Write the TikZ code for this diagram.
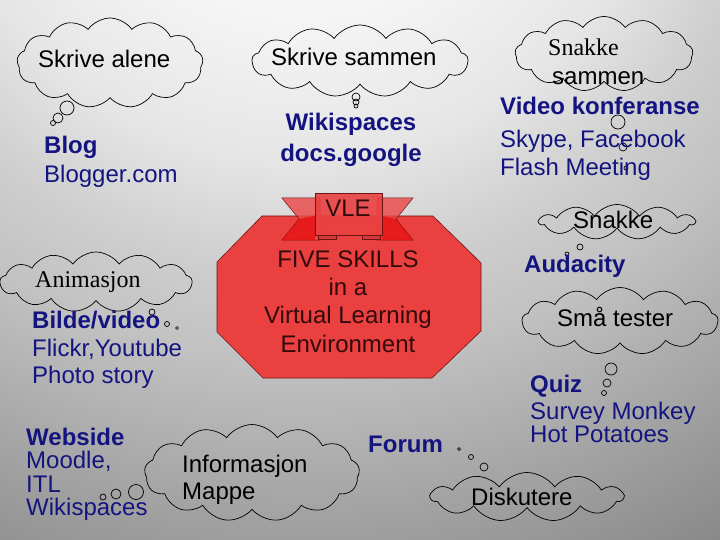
\documentclass[tikz,border=0pt]{standalone}
\usepackage{fontspec}
\setmainfont{Liberation Sans}
\newfontfamily\timesf{Liberation Serif}
\usetikzlibrary{shapes.symbols}
\definecolor{navy}{RGB}{20,20,128}
\definecolor{octred}{RGB}{234,64,64}
\definecolor{octborder}{RGB}{110,20,20}
\definecolor{octtext}{RGB}{50,10,10}
\definecolor{tailred}{RGB}{235,70,70}
\pgfdeclareradialshading{bgshade}{\pgfpoint{0bp}{0bp}}{color(0bp)=(white); color(6bp)=(white!96!black); color(10bp)=(white!90!black); color(13bp)=(white!81!black); color(15.5bp)=(white!76!black); color(20.5bp)=(white!62!black); color(23.5bp)=(white!54!black); color(25bp)=(white!51!black); color(50bp)=(white!51!black)}
\tikzset{
  cloudshape/.style={cloud, cloud puffs=13, cloud puff arc=110, cloud ignores aspect, draw=black, line width=0.7pt, inner sep=0pt},
  bubble/.style={circle, draw=black, line width=0.7pt, inner sep=0pt},
  txt/.style={inner sep=0pt, anchor=base west, font=\fontsize{24}{28}\selectfont},
  sertxt/.style={txt, font=\fontsize{24}{28}\selectfont\timesf},
  bl/.style={txt, text=navy},
  blb/.style={bl, font=\fontsize{24}{28}\selectfont\bfseries},
  ctxt/.style={inner sep=0pt, anchor=base, text=octtext, font=\fontsize{24}{28}\selectfont},
}
\begin{document}
\begin{tikzpicture}[x=1pt,y=-1pt]
\useasboundingbox (0,0) rectangle (720,540);
\begin{scope}
  \clip (0,0) rectangle (720,540);
  \shade[shading=bgshade] (300,-200) circle (900);
\end{scope}

% central octagon
\coordinate (o1) at (262,216); \coordinate (o2) at (433,216);
\coordinate (o3) at (481,263); \coordinate (o4) at (481,331);
\coordinate (o5) at (432,378); \coordinate (o6) at (263,378);
\coordinate (o7) at (217,332); \coordinate (o8) at (217,262);
\draw[fill=octred, draw=octborder, line width=0.6pt] (o1) -- (o2) -- (o3) -- (o4) -- (o5) -- (o6) -- (o7) -- (o8) -- cycle;

% ribbon
\draw[fill=tailred, fill opacity=0.8, draw=octborder, line width=0.5pt] (282,198) -- (320,198) -- (320,240) -- (282,240) -- (299,219) -- cycle;
\draw[fill=tailred, fill opacity=0.8, draw=octborder, line width=0.5pt] (413,198) -- (377,198) -- (377,240) -- (413,240) -- (396,219) -- cycle;
\fill[red!90!black, opacity=0.6] (299,219) -- (315,216) -- (315,240) -- (282,240) -- cycle;
\fill[red!90!black, opacity=0.6] (396,219) -- (382,216) -- (382,240) -- (413,240) -- cycle;
\draw[fill=octred!90!black, draw=octborder, line width=0.5pt] (318,235) rectangle (336,239);
\draw[fill=octred!90!black, draw=octborder, line width=0.5pt] (362,235) rectangle (380,239);
\draw[fill=octred, fill opacity=0.9, draw=octborder, line width=0.6pt] (315,193) rectangle (382,235);
\node[ctxt] (vle) at (348,217) {VLE};

\node[ctxt] (five) at (348,267) {FIVE SKILLS};
\node[ctxt] (ina) at (348,295) {in a};
\node[ctxt] (virt) at (348,323) {Virtual Learning};
\node[ctxt] (env) at (348,352) {Environment};

% clouds
\node[cloudshape, minimum width=186pt, minimum height=90pt] (c1) at (110,63) {};
\node[cloudshape, minimum width=216pt, minimum height=72pt] (c2) at (360,61) {};
\node[cloudshape, minimum width=178pt, minimum height=75pt] (c3) at (604,54) {};
\node[cloudshape, cloud puffs=11, minimum width=155pt, minimum height=35pt] (c4) at (617,222) {};
\node[cloudshape, minimum width=196pt, minimum height=67pt] (c5) at (620,321) {};
\node[cloudshape, minimum width=192pt, minimum height=60pt] (c6) at (96,282) {};
\node[cloudshape, minimum width=215pt, minimum height=97pt] (c7) at (252,473) {};
\node[cloudshape, cloud puffs=11, minimum width=192pt, minimum height=49pt] (c8) at (527,497) {};

% bubbles
\node[bubble, minimum size=14pt] (b11) at (67,108) {};
\node[bubble, minimum size=10pt] (b12) at (58,118) {};
\node[bubble, minimum size=5pt] (b13) at (53,123) {};
\node[bubble, minimum size=8pt] (b21) at (356,97) {};
\node[bubble, minimum size=6pt] (b22) at (356,102) {};
\node[bubble, minimum size=4pt] (b23) at (356,106) {};
\node[bubble, minimum size=14pt] (b31) at (618,122) {};
\node[bubble, minimum size=8pt] (b32) at (623,147) {};
\node[bubble, minimum size=4pt] (b33) at (626,168) {};
\node[bubble, minimum size=6pt] (b41) at (580,247) {};
\node[bubble, minimum size=4pt] (b42) at (567,254) {};
\node[bubble, minimum size=12pt] (b51) at (611,369) {};
\node[bubble, minimum size=8pt] (b52) at (607,383) {};
\node[bubble, minimum size=5pt] (b53) at (604,393) {};
\node[bubble, minimum size=6pt] (b61) at (152,312) {};
\node[bubble, minimum size=5pt] (b62) at (167,324) {};
\node[bubble, minimum size=3pt] (b63) at (177,328) {};
\node[bubble, minimum size=15pt] (b71) at (136,492) {};
\node[bubble, minimum size=10pt] (b72) at (116,494) {};
\node[bubble, minimum size=6pt] (b73) at (103,497) {};
\node[bubble, minimum size=8pt] (b81) at (484,467) {};
\node[bubble, minimum size=5pt] (b82) at (471,457) {};
\node[bubble, minimum size=3pt] (b83) at (459,449) {};

% cloud texts
\node[txt] (t1) at (38,68) {Skrive alene};
\node[txt] (t2) at (271,66) {Skrive sammen};
\node[sertxt] (t3a) at (548,56) {Snakke};
\node[txt] (t3b) at (552,85) {sammen};
\node[txt] (t4) at (573,229) {Snakke};
\node[txt] (t5) at (557,326) {Små tester};
\node[sertxt] (t6) at (35,287) {Animasjon};
\node[txt] (t7a) at (182,472) {Informasjon};
\node[txt] (t7b) at (182,499) {Mappe};
\node[txt] (t8) at (471,505) {Diskutere};

% blue texts
\node[blb] (blog) at (44,154) {Blog};
\node[bl] (blogger) at (44,183) {Blogger.com};
\node[blb, anchor=base] (wiki) at (351,131) {Wikispaces};
\node[blb, anchor=base] (docs) at (351,162) {docs.google};
\node[blb] (video) at (500,115) {Video konferanse};
\node[bl] (skype) at (500,148) {Skype, Facebook};
\node[bl] (flash) at (500,176) {Flash Meeting};
\node[blb] (aud) at (524,272) {Audacity};
\node[blb] (bilde) at (32,328) {Bilde/video};
\node[bl] (flickr) at (32,356) {Flickr,Youtube};
\node[bl] (photo) at (32,383) {Photo story};
\node[blb] (web) at (26,445) {Webside};
\node[bl] (moodle) at (26,468) {Moodle,};
\node[bl] (itl) at (26,492) {ITL};
\node[bl] (wikis) at (26,515) {Wikispaces};
\node[blb] (quiz) at (530,392) {Quiz};
\node[bl] (survey) at (530,419) {Survey Monkey};
\node[bl] (hot) at (530,442) {Hot Potatoes};
\node[blb] (forum) at (368,452) {Forum};
\end{tikzpicture}
\end{document}
